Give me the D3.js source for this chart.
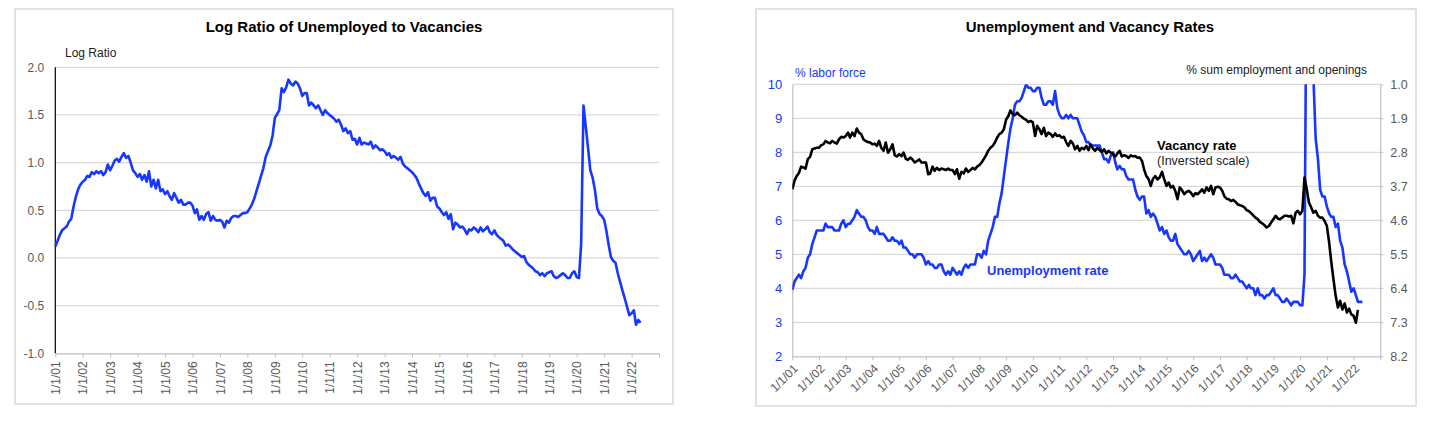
<!DOCTYPE html>
<html>
<head>
<meta charset="utf-8">
<script src="https://cdn.jsdelivr.net/npm/d3@7"></script>
<style>
  body { margin: 0; background: #fff; }
  text { font-family: "Liberation Sans", Arial, sans-serif; }
</style>
</head>
<body>
<svg id="chart" width="1431" height="421"></svg>
<script>
// monthly series, Jan 2001 onward
var yearLabels = ["1/1/01", "1/1/02", "1/1/03", "1/1/04", "1/1/05", "1/1/06", "1/1/07", "1/1/08",
                  "1/1/09", "1/1/10", "1/1/11", "1/1/12", "1/1/13", "1/1/14", "1/1/15", "1/1/16",
                  "1/1/17", "1/1/18", "1/1/19", "1/1/20", "1/1/21", "1/1/22"];

var logRatio = [
  0.12, 0.18, 0.24, 0.29, 0.31, 0.33, 0.38, 0.41, 0.54, 0.64, 0.72, 0.77,
  0.80, 0.82, 0.86, 0.85, 0.90, 0.88, 0.91, 0.89, 0.91, 0.87, 0.90, 0.98,
  0.92, 0.97, 1.02, 1.04, 1.01, 1.06, 1.10, 1.05, 1.07, 1.00, 0.92, 0.89,
  0.85, 0.88, 0.82, 0.87, 0.80, 0.91, 0.75, 0.82, 0.73, 0.82, 0.70, 0.72,
  0.67, 0.70, 0.65, 0.61, 0.68, 0.63, 0.58, 0.61, 0.56, 0.56, 0.58, 0.58,
  0.55, 0.47, 0.51, 0.40, 0.44, 0.40, 0.46, 0.48, 0.39, 0.44, 0.40, 0.39,
  0.40, 0.38, 0.32, 0.39, 0.37, 0.42, 0.44, 0.44, 0.43, 0.45, 0.47, 0.47,
  0.48, 0.52, 0.56, 0.62, 0.70, 0.78, 0.86, 0.94, 1.06, 1.12, 1.18, 1.28,
  1.47, 1.51, 1.55, 1.78, 1.74, 1.79, 1.87, 1.83, 1.81, 1.85, 1.83, 1.78,
  1.70, 1.73, 1.73, 1.60, 1.63, 1.60, 1.57, 1.60, 1.55, 1.50, 1.55, 1.52,
  1.50, 1.48, 1.46, 1.43, 1.45, 1.40, 1.33, 1.36, 1.31, 1.33, 1.24, 1.25,
  1.19, 1.26, 1.19, 1.21, 1.20, 1.19, 1.22, 1.15, 1.18, 1.16, 1.13, 1.14,
  1.12, 1.08, 1.10, 1.05, 1.07, 1.05, 1.03, 1.06, 0.99, 0.96, 0.94, 0.92,
  0.90, 0.87, 0.84, 0.78, 0.73, 0.68, 0.65, 0.69, 0.60, 0.63, 0.63, 0.54,
  0.52, 0.48, 0.45, 0.48, 0.41, 0.46, 0.30, 0.37, 0.35, 0.32, 0.33, 0.30,
  0.25, 0.30, 0.29, 0.32, 0.30, 0.27, 0.32, 0.28, 0.30, 0.33, 0.27, 0.25,
  0.29, 0.24, 0.22, 0.20, 0.18, 0.13, 0.14, 0.12, 0.09, 0.07, 0.05, 0.03,
  0.01, 0.02, -0.04, -0.07, -0.09, -0.11, -0.14, -0.15, -0.18, -0.16, -0.19, -0.16,
  -0.15, -0.14, -0.19, -0.21, -0.20, -0.18, -0.16, -0.18, -0.21, -0.21, -0.16, -0.14,
  -0.20, -0.21, 0.15, 1.60, 1.38, 1.15, 0.92, 0.84, 0.71, 0.52, 0.46, 0.44,
  0.40, 0.28, 0.14, 0.01, -0.03, -0.05, -0.16, -0.25, -0.34, -0.42, -0.51, -0.60,
  -0.58, -0.55, -0.70, -0.65, -0.68
];

var unempRate = [
  3.95, 4.2, 4.3, 4.4, 4.3, 4.5, 4.6, 4.9, 5.0, 5.3, 5.5, 5.7,
  5.7, 5.7, 5.7, 5.9, 5.8, 5.8, 5.8, 5.7, 5.7, 5.7, 5.9, 6.0,
  5.8, 5.9, 5.9, 6.0, 6.1, 6.3, 6.2, 6.1, 6.1, 6.0, 5.8, 5.7,
  5.7, 5.6, 5.8, 5.6, 5.6, 5.6, 5.5, 5.4, 5.4, 5.5, 5.4, 5.4,
  5.3, 5.4, 5.2, 5.2, 5.1, 5.0, 5.0, 4.9, 5.0, 5.0, 5.0, 4.9,
  4.7, 4.8, 4.7, 4.7, 4.6, 4.6, 4.7, 4.7, 4.5, 4.4, 4.5, 4.4,
  4.6, 4.5, 4.4, 4.5, 4.4, 4.6, 4.7, 4.6, 4.7, 4.7, 4.7, 5.0,
  5.0, 4.9, 5.1, 5.0, 5.4, 5.6, 5.8, 6.1, 6.1, 6.5, 6.8, 7.3,
  7.8, 8.3, 8.7, 9.0, 9.4, 9.5, 9.5, 9.6, 9.8, 10.0, 9.9, 9.9,
  9.8, 9.8, 9.9, 9.9, 9.6, 9.4, 9.4, 9.5, 9.5, 9.4, 9.8, 9.3,
  9.1, 9.0, 9.0, 9.1, 9.0, 9.1, 9.0, 9.0, 9.0, 8.8, 8.6, 8.5,
  8.3, 8.3, 8.2, 8.2, 8.2, 8.2, 8.2, 8.0, 7.8, 7.8, 7.7, 7.9,
  8.0, 7.7, 7.5, 7.6, 7.5, 7.5, 7.3, 7.2, 7.2, 7.2, 6.9, 6.7,
  6.6, 6.7, 6.7, 6.2, 6.3, 6.1, 6.2, 6.1, 5.9, 5.7, 5.8, 5.6,
  5.7, 5.5, 5.4, 5.4, 5.6, 5.3, 5.2, 5.1, 5.0, 5.0, 5.1, 5.0,
  4.8, 4.9, 5.0, 5.1, 4.8, 4.9, 4.8, 4.9, 5.0, 4.9, 4.7, 4.7,
  4.7, 4.6, 4.4, 4.4, 4.4, 4.3, 4.3, 4.4, 4.3, 4.2, 4.2, 4.1,
  4.0, 4.1, 4.0, 4.0, 3.8, 4.0, 3.8, 3.8, 3.7, 3.8, 3.8, 3.9,
  4.0, 3.8, 3.8, 3.7, 3.6, 3.6, 3.7, 3.6, 3.5, 3.6, 3.6, 3.6,
  3.5, 3.5, 4.4, 14.7, 13.2, 11.0, 10.2, 8.4, 7.8, 6.9, 6.7, 6.7,
  6.4, 6.2, 6.1, 6.1, 5.8, 5.9, 5.4, 5.2, 4.7, 4.5, 4.2, 3.9,
  4.0, 3.8, 3.6, 3.6, 3.6
];

var vacancyRate = [
  3.78, 3.55, 3.43, 3.35, 3.18, 3.20, 3.23, 2.98, 2.92, 2.72, 2.70, 2.68,
  2.68, 2.61, 2.59, 2.50, 2.54, 2.56, 2.50, 2.54, 2.57, 2.46, 2.39, 2.41,
  2.37, 2.28, 2.41, 2.28, 2.37, 2.17, 2.28, 2.32, 2.46, 2.50, 2.53, 2.54,
  2.59, 2.57, 2.63, 2.50, 2.68, 2.76, 2.54, 2.81, 2.72, 2.59, 2.88, 2.91,
  2.85, 2.90, 2.81, 2.97, 3.00, 2.94, 2.99, 3.07, 3.03, 2.99, 3.07, 3.07,
  3.07, 3.38, 3.36, 3.18, 3.29, 3.21, 3.27, 3.23, 3.25, 3.27, 3.23, 3.27,
  3.27, 3.38, 3.25, 3.50, 3.32, 3.36, 3.23, 3.32, 3.27, 3.21, 3.25, 3.18,
  3.14, 3.07, 2.98, 2.88, 2.76, 2.68, 2.63, 2.54, 2.41, 2.32, 2.28, 2.19,
  1.93, 1.84, 1.69, 1.79, 1.82, 1.75, 1.82, 1.86, 1.91, 1.94, 2.00, 1.97,
  2.01, 2.37, 2.10, 2.19, 2.32, 2.15, 2.37, 2.28, 2.32, 2.39, 2.30, 2.37,
  2.35, 2.41, 2.39, 2.53, 2.63, 2.50, 2.56, 2.72, 2.63, 2.76, 2.68, 2.72,
  2.63, 2.74, 2.59, 2.70, 2.76, 2.68, 2.74, 2.79, 2.72, 2.83, 2.76, 2.81,
  2.85, 2.91, 2.83, 2.76, 2.91, 2.88, 2.90, 2.95, 2.88, 2.91, 2.90, 2.94,
  2.94, 3.03, 3.25, 3.43, 3.51, 3.69, 3.50, 3.43, 3.52, 3.46, 3.32, 3.51,
  3.69, 3.60, 3.73, 3.69, 3.82, 4.04, 3.73, 3.80, 3.91, 3.85, 3.82, 3.87,
  3.96, 3.88, 3.91, 3.85, 3.78, 3.87, 3.73, 3.82, 3.69, 3.91, 3.73, 3.71,
  3.73, 3.82, 3.96, 4.03, 4.04, 4.09, 4.06, 4.11, 4.18, 4.20, 4.22, 4.26,
  4.33, 4.36, 4.41, 4.47, 4.53, 4.57, 4.64, 4.68, 4.73, 4.79, 4.75, 4.66,
  4.57, 4.48, 4.55, 4.57, 4.53, 4.48, 4.48, 4.50, 4.48, 4.68, 4.40, 4.35,
  4.44, 4.35, 3.47, 3.78, 4.13, 4.26, 4.40, 4.35, 4.48, 4.53, 4.53, 4.62,
  4.75, 5.19, 5.68, 6.16, 6.60, 6.91, 6.73, 6.96, 6.80, 7.04, 6.94, 7.09,
  7.13, 7.31, 6.97
];

var ratioTicks = [-1.0, -0.5, 0.0, 0.5, 1.0, 1.5, 2.0];
var unempTicks = [2, 3, 4, 5, 6, 7, 8, 9, 10];
var vacancyTicks = [1.0, 1.9, 2.8, 3.7, 4.6, 5.5, 6.4, 7.3, 8.2];

var BLUE = "#1737ff";
var GRID = "#d9d9d9";
var AXIS = "#bfbfbf";
var LABEL = "#595959";

var svg = d3.select("#chart");
svg.append("rect").attr("width", 1431).attr("height", 421).attr("fill", "#fff");

function monthDate(i) { return new Date(Date.UTC(2001, i, 1)); }
var yearDates = d3.range(23).map(function (k) { return new Date(Date.UTC(2001 + k, 0, 1)); });

// panel frames
svg.append("rect").attr("x", 15).attr("y", 9).attr("width", 658).attr("height", 395)
   .attr("fill", "none").attr("stroke", GRID).attr("stroke-width", 1.5);
svg.append("rect").attr("x", 756).attr("y", 9).attr("width", 660).attr("height", 397)
   .attr("fill", "none").attr("stroke", GRID).attr("stroke-width", 1.5);

/* ---------- left panel: log ratio ---------- */
var x1 = d3.scaleUtc().domain([yearDates[0], yearDates[22]]).range([55.3, 659]);
var y1 = d3.scaleLinear().domain([-1, 2]).range([353.3, 67.3]);

var left = svg.append("g");

left.append("text")
    .attr("x", 344).attr("y", 32)
    .attr("text-anchor", "middle")
    .attr("font-size", "15px").attr("font-weight", "bold")
    .text("Log Ratio of Unemployed to Vacancies");

left.append("text")
    .attr("x", 65).attr("y", 57)
    .attr("font-size", "12px").attr("fill", "#222")
    .text("Log Ratio");

left.append("g")
    .selectAll("line")
    .data(ratioTicks.slice(1))
    .enter().append("line")
      .attr("x1", x1.range()[0]).attr("x2", x1.range()[1])
      .attr("y1", d => y1(d)).attr("y2", d => y1(d))
      .attr("stroke", GRID).attr("stroke-width", 1.2);

var yAxis1 = left.append("g")
    .attr("transform", "translate(" + x1.range()[0] + ",0)")
    .call(d3.axisLeft(y1).tickValues(ratioTicks).tickFormat(d => d.toFixed(1)).tickSize(0).tickPadding(11));
yAxis1.select(".domain").remove();
yAxis1.selectAll("text").attr("font-size", "12px").attr("fill", LABEL).attr("font-family", null);

var xAxis1 = left.append("g")
    .attr("transform", "translate(0," + y1(-1) + ")")
    .call(d3.axisBottom(x1).tickValues(yearDates)
            .tickFormat((d, i) => i < yearLabels.length ? yearLabels[i] : "")
            .tickSize(4).tickSizeOuter(0));
xAxis1.select(".domain").attr("stroke", AXIS).attr("stroke-width", 1.2);
xAxis1.selectAll(".tick line").attr("stroke", AXIS);
xAxis1.selectAll("text")
    .attr("font-size", "12px").attr("fill", LABEL).attr("font-family", null)
    .attr("transform", "rotate(-90)")
    .attr("text-anchor", "end")
    .attr("x", -8).attr("y", 0).attr("dy", "0.35em");

left.append("line")
    .attr("x1", x1.range()[0]).attr("x2", x1.range()[0])
    .attr("y1", y1(2)).attr("y2", y1(-1))
    .attr("stroke", "#000").attr("stroke-width", 1.2);

left.append("path")
    .datum(logRatio)
    .attr("fill", "none")
    .attr("stroke", BLUE)
    .attr("stroke-width", 2.6)
    .attr("stroke-linejoin", "round")
    .attr("d", d3.line().x((d, i) => x1(monthDate(i))).y(d => y1(d)));

/* ---------- right panel: unemployment and vacancy rates ---------- */
var x2 = d3.scaleUtc().domain([yearDates[0], yearDates[22]]).range([792.3, 1380.3]);
var y2 = d3.scaleLinear().domain([2, 10]).range([356.3, 84.3]);
var y2v = d3.scaleLinear().domain([1.0, 8.2]).range([84.3, 356.3]);   // inverted

var right = svg.append("g");

right.append("text")
    .attr("x", 1090).attr("y", 32)
    .attr("text-anchor", "middle")
    .attr("font-size", "15px").attr("font-weight", "bold")
    .text("Unemployment and Vacancy Rates");

right.append("text")
    .attr("x", 795).attr("y", 77)
    .attr("font-size", "12px").attr("fill", BLUE)
    .text("% labor force");

right.append("text")
    .attr("x", 1367).attr("y", 74)
    .attr("text-anchor", "end")
    .attr("font-size", "12px").attr("fill", "#222")
    .text("% sum employment and openings");

right.append("g")
    .selectAll("line")
    .data(unempTicks.slice(1))
    .enter().append("line")
      .attr("x1", x2.range()[0]).attr("x2", x2.range()[1])
      .attr("y1", d => y2(d)).attr("y2", d => y2(d))
      .attr("stroke", GRID).attr("stroke-width", 1.2);

var yAxis2 = right.append("g")
    .attr("transform", "translate(" + x2.range()[0] + ",0)")
    .call(d3.axisLeft(y2).tickValues(unempTicks).tickFormat(d3.format("d")).tickSize(0).tickPadding(10));
yAxis2.select(".domain").attr("stroke", AXIS).attr("stroke-width", 1.2);
yAxis2.selectAll("text").attr("font-size", "13px").attr("fill", BLUE).attr("font-family", null);

var yAxis2v = right.append("g")
    .attr("transform", "translate(" + x2.range()[1] + ",0)")
    .call(d3.axisRight(y2v).tickValues(vacancyTicks).tickFormat(d => d.toFixed(1)).tickSize(3).tickPadding(7).tickSizeOuter(0));
yAxis2v.select(".domain").attr("stroke", AXIS).attr("stroke-width", 1.2);
yAxis2v.selectAll(".tick line").attr("stroke", AXIS);
yAxis2v.selectAll("text").attr("font-size", "12.5px").attr("fill", LABEL).attr("font-family", null);

var xAxis2 = right.append("g")
    .attr("transform", "translate(0," + y2(2) + ")")
    .call(d3.axisBottom(x2).tickValues(yearDates)
            .tickFormat((d, i) => i < yearLabels.length ? yearLabels[i] : "")
            .tickSize(4).tickSizeOuter(0));
xAxis2.select(".domain").attr("stroke", AXIS).attr("stroke-width", 1.2);
xAxis2.selectAll(".tick line").attr("stroke", AXIS);
xAxis2.selectAll("text")
    .attr("font-size", "12px").attr("fill", LABEL).attr("font-family", null)
    .attr("text-anchor", "end")
    .attr("transform", "translate(3,10) rotate(-45)")
    .attr("x", 0).attr("y", 0).attr("dy", "0.35em");

svg.append("clipPath").attr("id", "plot2")
   .append("rect")
     .attr("x", x2.range()[0]).attr("y", y2(10))
     .attr("width", x2.range()[1] - x2.range()[0]).attr("height", y2(2) - y2(10));

var lines2 = right.append("g").attr("clip-path", "url(#plot2)");

lines2.append("path")
    .datum(unempRate)
    .attr("fill", "none")
    .attr("stroke", BLUE)
    .attr("stroke-width", 2.6)
    .attr("stroke-linejoin", "round")
    .attr("d", d3.line().x((d, i) => x2(monthDate(i))).y(d => y2(d)));

lines2.append("path")
    .datum(vacancyRate)
    .attr("fill", "none")
    .attr("stroke", "#000")
    .attr("stroke-width", 2.6)
    .attr("stroke-linejoin", "round")
    .attr("d", d3.line().x((d, i) => x2(monthDate(i))).y(d => y2v(d)));

right.append("text")
    .attr("x", 1157).attr("y", 150)
    .attr("font-size", "13px").attr("font-weight", "bold")
    .text("Vacancy rate");
right.append("text")
    .attr("x", 1157).attr("y", 165)
    .attr("font-size", "12.5px").attr("fill", "#222")
    .text("(Inversted scale)");

right.append("text")
    .attr("x", 987).attr("y", 275)
    .attr("font-size", "13px").attr("font-weight", "bold").attr("fill", BLUE)
    .text("Unemployment rate");
</script>
</body>
</html>
